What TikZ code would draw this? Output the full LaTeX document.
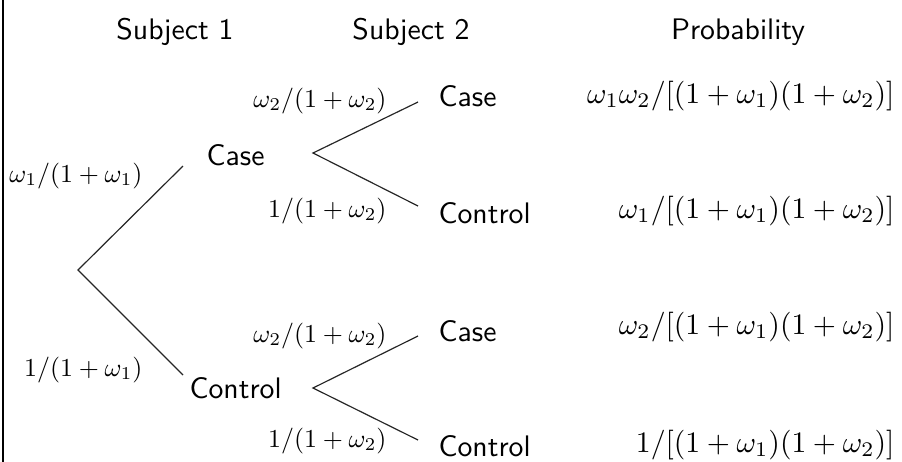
\documentclass[tikz,border=0pt]{standalone}
\begin{document}
\begin{tikzpicture}[x=0.3365pt,y=-0.3365pt,
  lbl/.style={inner sep=0pt,anchor=base,font=\sffamily},
  pr/.style={inner sep=0pt,anchor=base},
  br/.style={line width=0.4pt,draw=black!85}]
\newcommand{\smallm}[1]{\scalebox{0.87}{$#1$}}
\useasboundingbox (0,0) rectangle (902,461);
\draw[line width=0.6pt] (3,-2) -- (3,463);
% headers
\node[lbl] (h1) at (175,39) {Subject 1};
\node[lbl] (h2) at (411,39) {Subject 2};
\node[lbl] (h3) at (738,39) {Probability};
% subject 1
\node[lbl,anchor=base west] (s1case) at (206,165) {Case};
\node[lbl,anchor=base west] (s1ctrl) at (189,398) {Control};
% subject 2
\node[lbl,anchor=base west] (caseA) at (438,106) {Case};
\node[lbl,anchor=base west] (ctrlA) at (438,223) {Control};
\node[lbl,anchor=base west] (caseB) at (438,341) {Case};
\node[lbl,anchor=base west] (ctrlB) at (438,456) {Control};
% branch labels
\node[pr,anchor=base east] (p1) at (143,182) {\smallm{\omega_1/(1+\omega_1)}};
\node[pr,anchor=base east] (q1) at (143,376) {\smallm{1/(1+\omega_1)}};
\node[pr,anchor=base east] (p2a) at (387,107) {\smallm{\omega_2/(1+\omega_2)}};
\node[pr,anchor=base east] (q2a) at (387,217) {\smallm{1/(1+\omega_2)}};
\node[pr,anchor=base east] (p2b) at (387,342) {\smallm{\omega_2/(1+\omega_2)}};
\node[pr,anchor=base east] (q2b) at (387,447) {\smallm{1/(1+\omega_2)}};
% probabilities
\node[pr,anchor=base east] (r1) at (895,103) {$\omega_1\omega_2/[(1+\omega_1)(1+\omega_2)]$};
\node[pr,anchor=base east] (r2) at (895,218) {$\omega_1/[(1+\omega_1)(1+\omega_2)]$};
\node[pr,anchor=base east] (r3) at (895,334) {$\omega_2/[(1+\omega_1)(1+\omega_2)]$};
\node[pr,anchor=base east] (r4) at (895,452) {$1/[(1+\omega_1)(1+\omega_2)]$};
% tree points
\coordinate (root) at (78,270);
\coordinate (e1) at (183,166);
\coordinate (e2) at (183,375);
\coordinate (fa) at (313,153);
\coordinate (fa1) at (418,102);
\coordinate (fa2) at (418,206);
\coordinate (fb) at (313,388);
\coordinate (fb1) at (418,336);
\coordinate (fb2) at (418,440);
\draw[br] (e1) -- (root) -- (e2);
\draw[br] (fa1) -- (fa) -- (fa2);
\draw[br] (fb1) -- (fb) -- (fb2);
\end{tikzpicture}
\end{document}
